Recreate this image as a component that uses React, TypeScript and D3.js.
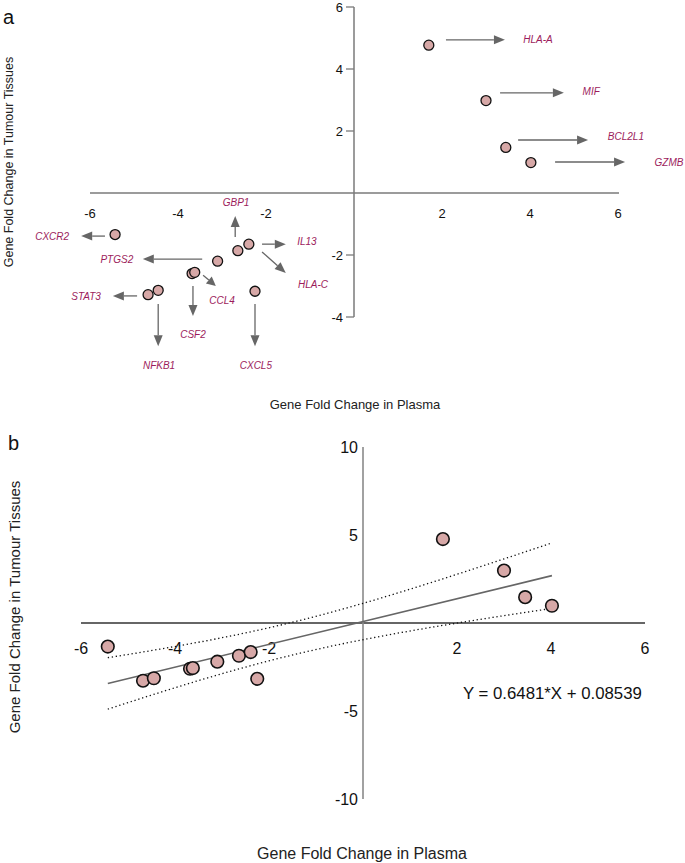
import React from "react";
import * as d3 from "d3";

// ---- data ----
const pointGenes = ["HLA-A", "MIF", "BCL2L1", "GZMB", "CXCR2", "PTGS2", "GBP1", "IL13", "CCL4", "CSF2", "STAT3", "NFKB1", "CXCL5"];
const plasmaFC = [1.7, 3.0, 3.45, 4.02, -5.43, -3.1, -2.64, -2.39, -3.68, -3.62, -4.68, -4.45, -2.25];
const tissueFC = [4.77, 2.98, 1.47, 0.98, -1.34, -2.2, -1.86, -1.65, -2.6, -2.56, -3.28, -3.14, -3.17];

// panel a annotation arrows (data units): start x/y, end x/y, label x/y
const labelGenes = ["HLA-A", "MIF", "BCL2L1", "GZMB", "CXCR2", "PTGS2", "GBP1", "IL13", "HLA-C", "CCL4", "CSF2", "STAT3", "NFKB1", "CXCL5"];
const arrowX0 = [2.09, 3.32, 3.73, 4.57, -5.66, -3.45, -2.7, -2.09, -2.09, -3.43, -3.66, -4.93, -4.45, -2.25];
const arrowY0 = [4.94, 3.23, 1.71, 1.0, -1.39, -2.13, -1.42, -1.65, -1.9, -2.65, -3.0, -3.32, -3.58, -3.58];
const arrowX1 = [3.43, 4.77, 5.32, 6.16, -6.2, -4.8, -2.7, -1.55, -1.55, -3.14, -3.66, -5.48, -4.45, -2.25];
const arrowY1 = [4.94, 3.23, 1.71, 1.0, -1.39, -2.13, -0.74, -1.65, -2.58, -3.0, -3.97, -3.32, -4.94, -4.94];
const labelX = [4.18, 5.39, 6.18, 7.16, -6.86, -5.39, -2.68, -1.07, -0.93, -3.0, -3.66, -6.09, -4.43, -2.23];
const labelY = [4.94, 3.26, 1.81, 1.0, -1.39, -2.13, -0.32, -1.55, -2.94, -3.48, -4.55, -3.35, -5.58, -5.58];

const xTicksA = [-6, -4, -2, 2, 4, 6];
const yTicksA = [6, 4, 2, -2, -4];
const xTicksB = [-6, -4, -2, 2, 4, 6];
const yTicksB = [10, 5, -5, -10];

const slope = 0.6481;
const intercept = 0.08539;
const equationText = "Y = 0.6481*X + 0.08539";

const FONT = "'Liberation Sans', Arial, Helvetica, sans-serif";
const LABEL_COLOR = "#9c1c5c";
const ARROW_COLOR = "#666666";
const POINT_FILL = "#d7a8a7";

function Arrow({ x0, y0, x1, y1 }: { x0: number; y0: number; x1: number; y1: number }) {
  const dx = x1 - x0;
  const dy = y1 - y0;
  const len = Math.hypot(dx, dy);
  const ux = dx / len;
  const uy = dy / len;
  const hl = Math.min(11, len * 0.55);
  const hw = 4.5;
  const bx = x1 - ux * hl;
  const by = y1 - uy * hl;
  const pts = [
    [x1, y1],
    [bx - uy * hw, by + ux * hw],
    [bx + uy * hw, by - ux * hw],
  ];
  return (
    <g>
      <line x1={x0} y1={y0} x2={bx} y2={by} stroke={ARROW_COLOR} strokeWidth={1.3} />
      <polygon points={pts.map((p) => p.join(",")).join(" ")} fill={ARROW_COLOR} />
    </g>
  );
}

export default function App() {
  // panel a scales
  const xA = d3.scaleLinear().domain([-6, 6]).range([90, 618]);
  const yA = d3.scaleLinear().domain([-4, 6]).range([317, 7]);
  // panel b scales
  const xB = d3.scaleLinear().domain([-6, 6]).range([81, 645]);
  const yB = d3.scaleLinear().domain([-10, 10]).range([799, 447]);

  // regression confidence band computed from data
  const n = plasmaFC.length;
  const meanX = d3.mean(plasmaFC) as number;
  const sxx = d3.sum(plasmaFC, (x) => (x - meanX) ** 2);
  const ssr = d3.sum(plasmaFC.map((x, i) => (tissueFC[i] - (slope * x + intercept)) ** 2));
  const s = Math.sqrt(ssr / (n - 2));
  const tCrit = 2.201;
  const xMin = d3.min(plasmaFC) as number;
  const xMax = d3.max(plasmaFC) as number;
  const xs = d3.range(0, 61).map((i) => xMin + ((xMax - xMin) * i) / 60);
  const hw = (x: number) => tCrit * s * Math.sqrt(1 / n + (x - meanX) ** 2 / sxx);
  const line = d3
    .line<[number, number]>()
    .x((d) => xB(d[0]))
    .y((d) => yB(d[1]));
  const upper = line(xs.map((x) => [x, slope * x + intercept + hw(x)] as [number, number]));
  const lower = line(xs.map((x) => [x, slope * x + intercept - hw(x)] as [number, number]));
  const fit = line([
    [xMin, slope * xMin + intercept],
    [xMax, slope * xMax + intercept],
  ]);

  return (
    <svg
      width={685}
      height={863}
      style={{ position: "absolute", left: 0, top: 0, background: "#fff" }}
      fontFamily={FONT}
    >
      {/* ===== Panel a ===== */}
      <text x={3} y={24} fontSize={20} fill="#111">a</text>
      <text
        transform={`translate(13, ${162}) rotate(-90)`}
        textAnchor="middle"
        fontSize={12.5}
        fill="#222"
      >
        Gene Fold Change in Tumour Tissues
      </text>
      <text x={355} y={409} textAnchor="middle" fontSize={13} fill="#222">
        Gene Fold Change in Plasma
      </text>

      {/* axes */}
      <line x1={xA(-6)} x2={xA(6) + 1} y1={yA(0)} y2={yA(0)} stroke="#7a7a7a" strokeWidth={1.5} />
      <line x1={xA(0)} x2={xA(0)} y1={yA(6)} y2={yA(-4)} stroke="#7a7a7a" strokeWidth={1.5} />
      {yTicksA.map((t) => (
        <g key={"ya" + t}>
          <line x1={xA(0) - 8} x2={xA(0)} y1={yA(t)} y2={yA(t)} stroke="#7a7a7a" strokeWidth={1.3} />
          <text x={xA(0) - 11} y={yA(t)} dy="0.35em" textAnchor="end" fontSize={13} fill="#111">
            {t}
          </text>
        </g>
      ))}
      {xTicksA.map((t) => (
        <text key={"xa" + t} x={xA(t)} y={yA(0) + 20} dy="0.35em" textAnchor="middle" fontSize={13} fill="#111">
          {t}
        </text>
      ))}

      {/* arrows and labels */}
      {labelGenes.map((g, i) => (
        <g key={"ar" + g}>
          <Arrow x0={xA(arrowX0[i])} y0={yA(arrowY0[i])} x1={xA(arrowX1[i])} y1={yA(arrowY1[i])} />
          <text
            x={xA(labelX[i])}
            y={yA(labelY[i])}
            dy="0.35em"
            textAnchor="middle"
            fontSize={10}
            fontStyle="italic"
            fill={LABEL_COLOR}
          >
            {g}
          </text>
        </g>
      ))}

      {/* points */}
      {pointGenes.map((g, i) => (
        <circle
          key={"pa" + g}
          cx={xA(plasmaFC[i])}
          cy={yA(tissueFC[i])}
          r={5}
          fill={POINT_FILL}
          stroke="#111"
          strokeWidth={1.3}
        />
      ))}

      {/* ===== Panel b ===== */}
      <text x={8} y={450} fontSize={20} fill="#111">b</text>
      <text
        transform={`translate(20, ${607}) rotate(-90)`}
        textAnchor="middle"
        fontSize={15}
        fill="#222"
      >
        Gene Fold Change in Tumour Tissues
      </text>
      <text x={362} y={859} textAnchor="middle" fontSize={16} fill="#222">
        Gene Fold Change in Plasma
      </text>

      <line x1={xB(-6)} x2={xB(6)} y1={yB(0)} y2={yB(0)} stroke="#333" strokeWidth={1.3} />
      <line x1={xB(0)} x2={xB(0)} y1={yB(10)} y2={yB(-10)} stroke="#8a8a8a" strokeWidth={1.6} />
      {yTicksB.map((t) => (
        <text key={"yb" + t} x={xB(0) - 5} y={yB(t)} dy="0.35em" textAnchor="end" fontSize={16} fill="#111">
          {t}
        </text>
      ))}
      {xTicksB.map((t) => (
        <text key={"xb" + t} x={xB(t)} y={yB(0) + 25} dy="0.35em" textAnchor="middle" fontSize={16} fill="#111">
          {t}
        </text>
      ))}

      <path d={upper || ""} fill="none" stroke="#111" strokeWidth={1.3} strokeDasharray="1.3 2.7" />
      <path d={lower || ""} fill="none" stroke="#111" strokeWidth={1.3} strokeDasharray="1.3 2.7" />
      <path d={fit || ""} fill="none" stroke="#666" strokeWidth={1.6} />

      {pointGenes.map((g, i) => (
        <circle
          key={"pb" + g}
          cx={xB(plasmaFC[i])}
          cy={yB(tissueFC[i])}
          r={6.3}
          fill={POINT_FILL}
          stroke="#111"
          strokeWidth={1.6}
        />
      ))}

      <text x={463} y={699} fontSize={16.8} fill="#111">
        {equationText}
      </text>
    </svg>
  );
}
